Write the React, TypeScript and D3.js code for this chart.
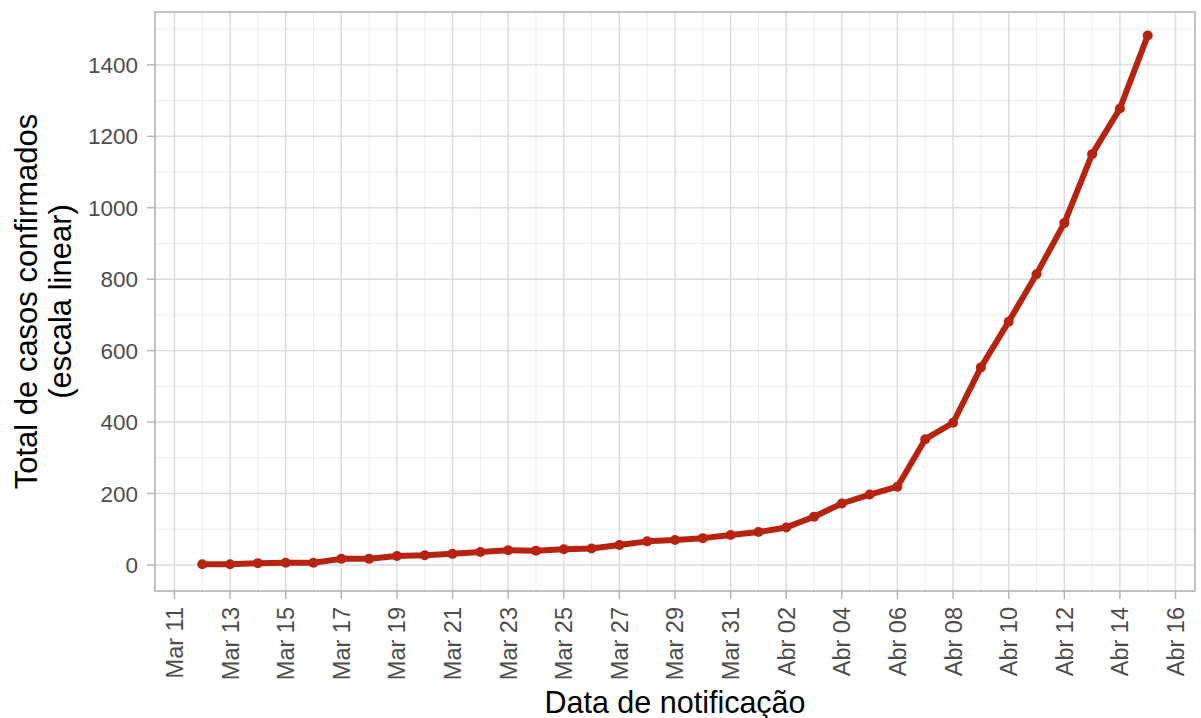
import React from "react";
import * as d3 from "d3";

const dates: string[] = [
  "2020-03-12","2020-03-13","2020-03-14","2020-03-15","2020-03-16","2020-03-17","2020-03-18",
  "2020-03-19","2020-03-20","2020-03-21","2020-03-22","2020-03-23","2020-03-24","2020-03-25",
  "2020-03-26","2020-03-27","2020-03-28","2020-03-29","2020-03-30","2020-03-31","2020-04-01",
  "2020-04-02","2020-04-03","2020-04-04","2020-04-05","2020-04-06","2020-04-07","2020-04-08",
  "2020-04-09","2020-04-10","2020-04-11","2020-04-12","2020-04-13","2020-04-14","2020-04-15",
];
const cases: number[] = [
  2, 2, 5, 6, 6, 17, 17, 25, 27, 31, 36, 41, 40, 44, 46, 56, 66, 70, 75, 84, 92,
  105, 135, 172, 197, 219, 352, 398, 553, 681, 814, 957, 1150, 1278, 1482,
];
const yTicks: number[] = [0, 200, 400, 600, 800, 1000, 1200, 1400];
const monthLabels: string[] = ["Jan","Fev","Mar","Abr","Mai","Jun","Jul","Ago","Set","Out","Nov","Dez"];
const xTitle = "Data de notificação";
const yTitle = ["Total de casos confirmados", "(escala linear)"];

const W = 1201, H = 718;
const P = { left: 155, right: 1195, top: 12, bottom: 591 };
const FONT = "'Liberation Sans', Arial, Helvetica, sans-serif";

export default function App() {
  const parse = d3.utcParse("%Y-%m-%d");
  const data = dates.map((d, i) => ({ date: parse(d)!, v: cases[i] }));
  const dMin = data[0].date, dMax = data[data.length - 1].date;
  const span = +dMax - +dMin;
  const x = d3.scaleUtc()
    .domain([new Date(+dMin - span * 0.05), new Date(+dMax + span * 0.05)])
    .range([P.left, P.right]);
  const y = d3.scaleLinear().domain([-73, 1548]).range([P.bottom, P.top]);

  const xTicks = d3.utcDay.range(d3.utcDay.offset(dMin, -1), d3.utcDay.offset(dMax, 2), 2);
  const xMinor = d3.utcDay.range(dMin, d3.utcDay.offset(dMax, 1), 2);
  const yMinor = yTicks.map((t) => t + 100).filter((t) => t < y.domain()[1]);
  const fmt = (d: Date) => `${monthLabels[d.getUTCMonth()]} ${d3.utcFormat("%d")(d)}`;

  const line = d3.line<{ date: Date; v: number }>()
    .x((d) => x(d.date))
    .y((d) => y(d.v));

  const red = "#b8230f";
  const midY = (P.top + P.bottom) / 2;

  return (
    <svg width={W} height={H} style={{ position: "absolute", left: 0, top: 0, background: "#fff" }} fontFamily={FONT}>
      <rect x={0} y={0} width={W} height={H} fill="#fff" />
      {/* minor grid */}
      {xMinor.map((d, i) => (
        <line key={"xm" + i} x1={x(d)} x2={x(d)} y1={P.top} y2={P.bottom} stroke="#ececec" strokeWidth={1} />
      ))}
      {yMinor.map((t, i) => (
        <line key={"ym" + i} x1={P.left} x2={P.right} y1={y(t)} y2={y(t)} stroke="#ececec" strokeWidth={1} />
      ))}
      {/* major grid */}
      {xTicks.map((d, i) => (
        <line key={"xg" + i} x1={x(d)} x2={x(d)} y1={P.top} y2={P.bottom} stroke="#dadada" strokeWidth={1.4} />
      ))}
      {yTicks.map((t, i) => (
        <line key={"yg" + i} x1={P.left} x2={P.right} y1={y(t)} y2={y(t)} stroke="#dadada" strokeWidth={1.4} />
      ))}
      {/* panel border */}
      <rect x={P.left} y={P.top} width={P.right - P.left} height={P.bottom - P.top} fill="none" stroke="#b3b3b3" strokeWidth={1.6} />
      {/* y ticks */}
      {yTicks.map((t, i) => (
        <g key={"yt" + i}>
          <line x1={P.left - 8} x2={P.left} y1={y(t)} y2={y(t)} stroke="#b3b3b3" strokeWidth={1.4} />
          <text x={P.left - 17} y={y(t)} dy="0.36em" textAnchor="end" fontSize={22.5} fill="#4d4d4d">{t}</text>
        </g>
      ))}
      {/* x ticks */}
      {xTicks.map((d, i) => (
        <g key={"xt" + i}>
          <line x1={x(d)} x2={x(d)} y1={P.bottom} y2={P.bottom + 8} stroke="#b3b3b3" strokeWidth={1.4} />
          <text transform={`translate(${x(d)},${P.bottom + 16}) rotate(-90)`} dy="0.36em" textAnchor="end" fontSize={23.5} fill="#4d4d4d">{fmt(d)}</text>
        </g>
      ))}
      {/* data */}
      <path d={line(data) ?? ""} fill="none" stroke={red} strokeWidth={6} strokeLinejoin="round" strokeLinecap="round" />
      {data.map((d, i) => (
        <circle key={"p" + i} cx={x(d.date)} cy={y(d.v)} r={5} fill={red} />
      ))}
      {/* titles */}
      <text x={(P.left + P.right) / 2} y={713} textAnchor="middle" fontSize={30.5} fill="#000">{xTitle}</text>
      <text transform={`translate(37,${midY}) rotate(-90)`} textAnchor="middle" fontSize={31} fill="#000">{yTitle[0]}</text>
      <text transform={`translate(71,${midY}) rotate(-90)`} textAnchor="middle" fontSize={31} fill="#000">{yTitle[1]}</text>
    </svg>
  );
}
